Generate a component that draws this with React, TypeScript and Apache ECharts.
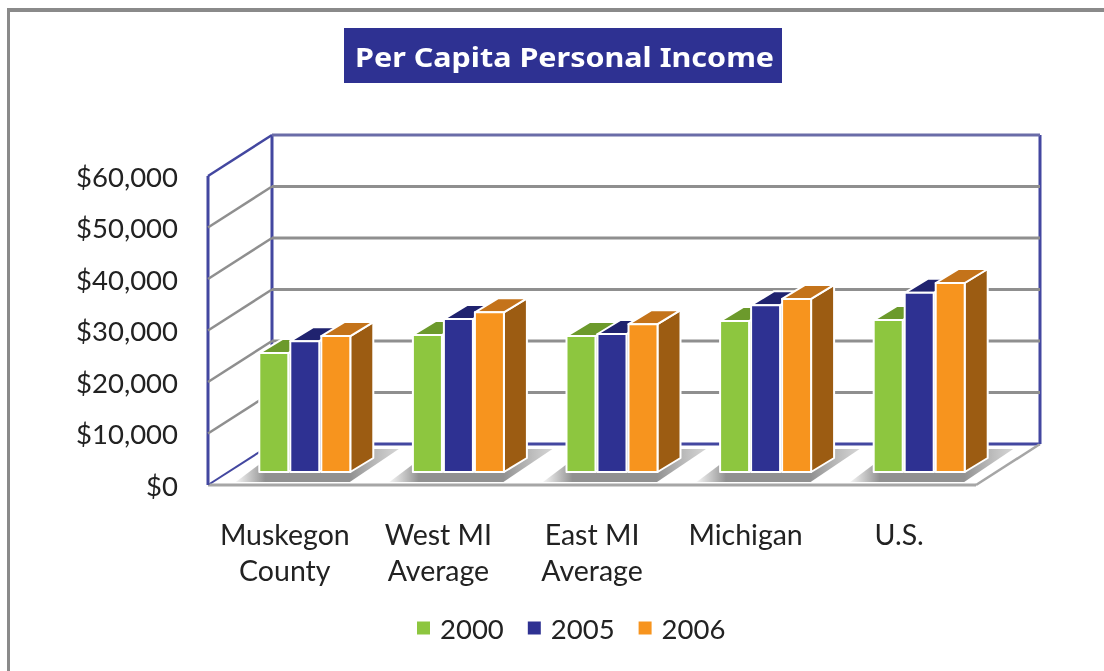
import React, { useEffect, useRef } from "react";
import * as echarts from "echarts";

const titleText = "Per Capita Personal Income";
const categories = ["Muskegon\nCounty", "West MI\nAverage", "East MI\nAverage", "Michigan", "U.S."];
const years = ["2000", "2005", "2006"];
const values2000 = [23100, 26600, 26400, 29300, 29500];
const values2005 = [25400, 29700, 26800, 32400, 34800];
const values2006 = [26400, 31000, 28700, 33600, 36700];
const yTicks = [0, 10000, 20000, 30000, 40000, 50000, 60000];

const FONT = "Lato";
const NAVY = "#2E3192";
const WALL = "#4347A0";
const GRIDLINE = "#8F8F8F";
const faces = [
  { front: "#8DC63F", top: "#6C9A2C", side: "#5F8A26" },
  { front: "#2E3192", top: "#20236F", side: "#1E2060" },
  { front: "#F7941E", top: "#C4731A", side: "#9C5C12" },
];
const WALL_DX = 64, WALL_DY = 41;
const BAR_OFF_X = 20, BAR_OFF_Y = 13, BAR_DX = 23, BAR_DY = 14;
const BAR_W = 29, BAR_STEP = 31;

const wallItem = (params: any, api: any) => {
  const v = api.value(0);
  const y = api.coord([0, v])[1];
  const cs = params.coordSys;
  const x0 = cs.x, x1 = cs.x + cs.width;
  const line = (a: number, b: number, c: number, d: number, stroke: string, w: number) => ({
    type: "line",
    shape: { x1: a, y1: b, x2: c, y2: d },
    style: { stroke, lineWidth: w, fill: "none" },
  });
  const children: any[] = [];
  if (v === 0) {
    children.push(line(x0 + WALL_DX, y - WALL_DY, x1 + WALL_DX, y - WALL_DY, WALL, 3));
    children.push(line(x0, y, x0 + WALL_DX, y - WALL_DY, WALL, 2));
    children.push(line(x0, y, x1, y, "#A6A6A6", 3));
    children.push(line(x1, y, x1 + WALL_DX, y - WALL_DY, "#A6A6A6", 2.5));
    children.push(line(x0, y, x0, cs.y, WALL, 3));
    children.push(line(x0 + WALL_DX, y - WALL_DY, x0 + WALL_DX, cs.y - WALL_DY, WALL, 3));
    children.push(line(x1 + WALL_DX, y - WALL_DY, x1 + WALL_DX, cs.y - WALL_DY, WALL, 3));
  } else if (v === 60000) {
    children.push(line(x0, y, x0 + WALL_DX, y - WALL_DY, WALL, 2.5));
    children.push(line(x0 + WALL_DX, y - WALL_DY, x1 + WALL_DX, y - WALL_DY, "#6A6CA8", 3));
  } else {
    children.push(line(x0, y, x0 + WALL_DX, y - WALL_DY, GRIDLINE, 2.5));
    children.push(line(x0 + WALL_DX, y - WALL_DY, x1 + WALL_DX, y - WALL_DY, GRIDLINE, 3));
  }
  return { type: "group", children };
};

const shadowItem = (_: any, api: any) => {
  const p = api.coord([api.value(0), 0]);
  const cx = p[0], y0 = p[1];
  return {
    type: "polygon",
    shape: {
      points: [
        [cx - 49, y0 - 3],
        [cx + 65, y0 - 3],
        [cx + 114, y0 - 36],
        [cx + 65, y0 - 36],
        [cx - 25, y0 - 21],
      ],
    },
    style: {
      fill: new echarts.graphic.LinearGradient(0, 0, 1, 0, [
        { offset: 0, color: "rgba(150,150,150,0.1)" },
        { offset: 0.18, color: "rgba(145,145,145,1)" },
        { offset: 0.7, color: "rgba(145,145,145,1)" },
        { offset: 1, color: "rgba(185,185,185,0.6)" },
      ]),
    },
  };
};

const barItem = (seriesIdx: number) => (_: any, api: any) => {
  const top = api.coord([api.value(0), api.value(1)]);
  const base = api.coord([api.value(0), 0]);
  const x = top[0] + BAR_OFF_X + (seriesIdx - 1) * BAR_STEP - BAR_W / 2;
  const yT = top[1] - BAR_OFF_Y;
  const yB = base[1] - BAR_OFF_Y;
  const c = faces[seriesIdx];
  const edge = { stroke: "#FFFFFF", lineWidth: 2, lineJoin: "round" };
  return {
    type: "group",
    children: [
      {
        type: "polygon",
        shape: { points: [[x + BAR_W, yT], [x + BAR_W + BAR_DX, yT - BAR_DY], [x + BAR_W + BAR_DX, yB - BAR_DY], [x + BAR_W, yB]] },
        style: { fill: c.side, ...edge },
      },
      {
        type: "polygon",
        shape: { points: [[x, yT], [x + BAR_DX, yT - BAR_DY], [x + BAR_W + BAR_DX, yT - BAR_DY], [x + BAR_W, yT]] },
        style: { fill: c.top, ...edge },
      },
      {
        type: "rect",
        shape: { x, y: yT, width: BAR_W, height: yB - yT },
        style: { fill: c.front, ...edge },
      },
    ],
  };
};

export default function App() {
  const ref = useRef<HTMLDivElement>(null);
  useEffect(() => {
    document.body.style.margin = "0";
    const chart = echarts.init(ref.current!, undefined, { renderer: "svg" });
    const seriesValues = [values2000, values2005, values2006];
    chart.setOption({
      animation: false,
      backgroundColor: "#FFFFFF",
      legend: {
        data: years,
        left: 417,
        top: 614,
        icon: "rect",
        itemWidth: 13,
        itemHeight: 13,
        itemGap: 24,
        padding: 0,
        textStyle: { fontFamily: FONT, fontSize: 27.5, color: "#222222", padding: [0, 0, 0, 5] },
      },
      grid: { left: 208, top: 176, width: 768, height: 309 },
      xAxis: {
        type: "category",
        data: categories,
        axisLine: { show: false },
        axisTick: { show: false },
        axisLabel: { fontFamily: FONT, fontSize: 28.5, color: "#222222", lineHeight: 36, margin: 31, interval: 0 },
      },
      yAxis: {
        type: "value",
        min: 0,
        max: 60000,
        interval: 10000,
        axisLine: { show: false },
        axisTick: { show: false },
        splitLine: { show: false },
        axisLabel: {
          fontFamily: FONT,
          fontSize: 27.5,
          color: "#222222",
          margin: 30,
          formatter: (v: number) => "$" + v.toLocaleString("en-US"),
        },
      },
      graphic: [
        { type: "line", shape: { x1: 7, y1: 10, x2: 1104, y2: 10 }, style: { stroke: "#8A8A8A", lineWidth: 4 } },
        { type: "line", shape: { x1: 8.5, y1: 10, x2: 8.5, y2: 671 }, style: { stroke: "#8A8A8A", lineWidth: 3 } },
        { type: "rect", shape: { x: 344, y: 28, width: 438, height: 55 }, style: { fill: NAVY } },
        {
          type: "text",
          x: 355,
          y: 56,
          scaleX: 1.13,
          style: {
            text: titleText,
            fill: "#FFFFFF",
            font: 'bold 27px "Noto Sans"',
            verticalAlign: "middle",
            align: "left",
          },
        },
      ],
      series: [
        { type: "custom", data: yTicks.map((v) => [v]), encode: { y: 0 }, renderItem: wallItem, silent: true },
        { type: "custom", data: categories.map((_, i) => [i]), encode: { x: 0 }, renderItem: shadowItem, silent: true },
        ...years.map((name, s) => ({
          type: "custom",
          name,
          itemStyle: { color: faces[s].front },
          data: seriesValues[s].map((v, i) => [i, v]),
          encode: { x: 0, y: 1 },
          renderItem: barItem(s),
        })),
      ],
    });
    return () => chart.dispose();
  }, []);
  return <div ref={ref} style={{ width: 1104, height: 671, filter: "blur(0.5px)" }} />;
}
